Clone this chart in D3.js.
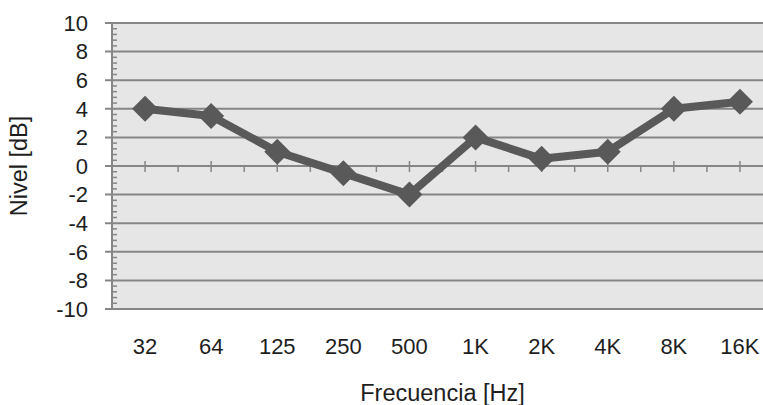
<!DOCTYPE html>
<html>
<head>
<meta charset="utf-8">
<script src="https://cdn.jsdelivr.net/npm/d3@7"></script>
<style>
  body { margin: 0; background: #fff; }
  svg { display: block; font-family: "Liberation Sans", Arial, sans-serif; }
</style>
</head>
<body>
<svg id="chart"></svg>
<script>
// chart data
const frequencies = ['32', '64', '125', '250', '500', '1K', '2K', '4K', '8K', '16K'];
const levels = [4, 3.5, 1, -0.5, -2, 2, 0.5, 1, 4, 4.5];
const yTicks = [-10, -8, -6, -4, -2, 0, 2, 4, 6, 8, 10];

const width = 763, height = 405;
const plot = { left: 112, right: 773, top: 23, bottom: 309 };

const svg = d3.select('#chart')
    .attr('width', width)
    .attr('height', height);

const xScale = d3.scaleBand()
    .domain(frequencies)
    .range([plot.left, plot.right]);

const yScale = d3.scaleLinear()
    .domain([-10, 10])
    .range([plot.bottom, plot.top]);

const axisColor = '#868686';
const textColor = '#1e1e1e';
const fontSize = 22;
const titleSize = 23.5;

// plot background
svg.append('rect')
    .attr('x', plot.left)
    .attr('y', plot.top)
    .attr('width', plot.right - plot.left)
    .attr('height', plot.bottom - plot.top)
    .attr('fill', '#e6e6e6');

// horizontal gridlines (extend out as major ticks)
svg.append('g')
    .selectAll('line')
    .data(yTicks)
    .join('line')
    .attr('x1', plot.left - 7)
    .attr('x2', plot.right)
    .attr('y1', d => yScale(d))
    .attr('y2', d => yScale(d))
    .attr('stroke', axisColor)
    .attr('stroke-width', 2);

// minor ticks on y axis, every 0.4
const minorTicks = d3.range(-10, 10.001, 0.4).filter(v => Math.abs(v / 2 - Math.round(v / 2)) > 0.01);
svg.append('g')
    .selectAll('line')
    .data(minorTicks)
    .join('line')
    .attr('x1', plot.left)
    .attr('x2', plot.left + 5)
    .attr('y1', d => yScale(d))
    .attr('y2', d => yScale(d))
    .attr('stroke', axisColor)
    .attr('stroke-width', 1.5);

// y axis line
svg.append('line')
    .attr('x1', plot.left)
    .attr('x2', plot.left)
    .attr('y1', plot.top)
    .attr('y2', plot.bottom)
    .attr('stroke', axisColor)
    .attr('stroke-width', 2);

// y tick labels
svg.append('g')
    .selectAll('text')
    .data(yTicks)
    .join('text')
    .attr('x', 88)
    .attr('y', d => yScale(d))
    .attr('dy', '0.35em')
    .attr('text-anchor', 'end')
    .attr('font-size', fontSize)
    .attr('fill', textColor)
    .text(d => d);

// x axis at zero: category ticks cross, in-between ticks below only
const y0 = yScale(0);
const step = xScale.step();
svg.append('g')
    .selectAll('line.major')
    .data(frequencies)
    .join('line')
    .attr('class', 'major')
    .attr('x1', d => xScale(d) + step / 2)
    .attr('x2', d => xScale(d) + step / 2)
    .attr('y1', y0 - 5)
    .attr('y2', y0 + 6)
    .attr('stroke', axisColor)
    .attr('stroke-width', 1.5);

svg.append('g')
    .selectAll('line.minor')
    .data(frequencies)
    .join('line')
    .attr('class', 'minor')
    .attr('x1', d => xScale(d) + step)
    .attr('x2', d => xScale(d) + step)
    .attr('y1', y0)
    .attr('y2', y0 + 6)
    .attr('stroke', axisColor)
    .attr('stroke-width', 1.5);

// x tick labels
svg.append('g')
    .selectAll('text')
    .data(frequencies)
    .join('text')
    .attr('x', d => xScale(d) + step / 2)
    .attr('y', 346)
    .attr('dy', '0.35em')
    .attr('text-anchor', 'middle')
    .attr('font-size', fontSize)
    .attr('fill', textColor)
    .text(d => d);

// data line
const points = frequencies.map((f, i) => ({ f: f, v: levels[i] }));
const line = d3.line()
    .x(d => xScale(d.f) + step / 2)
    .y(d => yScale(d.v));

svg.append('path')
    .datum(points)
    .attr('d', line)
    .attr('fill', 'none')
    .attr('stroke', '#595959')
    .attr('stroke-width', 8)
    .attr('stroke-linejoin', 'round');

// diamond markers
const r = 13;
svg.append('g')
    .selectAll('path')
    .data(points)
    .join('path')
    .attr('transform', d => `translate(${xScale(d.f) + step / 2},${yScale(d.v)})`)
    .attr('d', `M0,${-r}L${r},0L0,${r}L${-r},0Z`)
    .attr('fill', '#595959');

// axis titles
svg.append('text')
    .attr('x', (plot.left + plot.right) / 2)
    .attr('y', 393)
    .attr('dy', '0.35em')
    .attr('text-anchor', 'middle')
    .attr('font-size', titleSize)
    .attr('fill', textColor)
    .text('Frecuencia [Hz]');

svg.append('text')
    .attr('transform', `translate(19,${(plot.top + plot.bottom) / 2}) rotate(-90)`)
    .attr('dy', '0.35em')
    .attr('text-anchor', 'middle')
    .attr('font-size', titleSize)
    .attr('fill', textColor)
    .text('Nivel [dB]');
</script>
</body>
</html>
